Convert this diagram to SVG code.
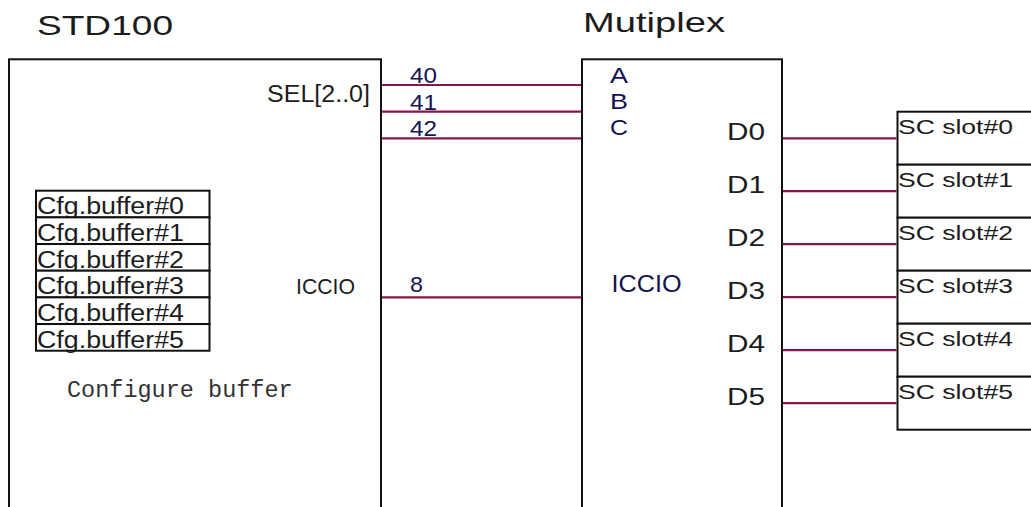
<svg xmlns="http://www.w3.org/2000/svg" width="1031" height="507" viewBox="0 0 1031 507">
<style>
.box{fill:#fff;stroke:#111;stroke-width:2}
.wire{stroke:#8a1450;stroke-width:2.2;fill:none}
.t{font-family:"Liberation Sans",Arial,Helvetica,sans-serif;fill:#1c1c1c}
.n{font-family:"Liberation Sans",Arial,Helvetica,sans-serif;fill:#141450}
.title{font-size:28px}
.m{font-family:"Liberation Mono","Courier New",monospace;font-size:23.5px;fill:#333}
</style>
<rect width="1031" height="507" fill="#fff"/>
<g id="std100">
  <rect class="box" x="9" y="59.3" width="372" height="470"/>
  <text class="t title" x="37" y="35" textLength="136" lengthAdjust="spacingAndGlyphs">STD100</text>
  <text class="t" x="267" y="102" font-size="23" textLength="103" lengthAdjust="spacingAndGlyphs">SEL[2..0]</text>
  <text class="t" x="296" y="294" font-size="22.5" textLength="59" lengthAdjust="spacingAndGlyphs">ICCIO</text>
  <text class="m" x="67" y="396.5">Configure buffer</text>
</g>
<g id="cfg-buffers">
  <g id="cfg0"><rect class="box" x="36" y="190.7" width="173.5" height="26.67"/><text class="t" x="37" y="214.3" font-size="23" textLength="147" lengthAdjust="spacingAndGlyphs">Cfg.buffer#0</text></g>
  <g id="cfg1"><rect class="box" x="36" y="217.37" width="173.5" height="26.67"/><text class="t" x="37" y="240.97" font-size="23" textLength="147" lengthAdjust="spacingAndGlyphs">Cfg.buffer#1</text></g>
  <g id="cfg2"><rect class="box" x="36" y="244.04" width="173.5" height="26.67"/><text class="t" x="37" y="267.64" font-size="23" textLength="147" lengthAdjust="spacingAndGlyphs">Cfg.buffer#2</text></g>
  <g id="cfg3"><rect class="box" x="36" y="270.71" width="173.5" height="26.67"/><text class="t" x="37" y="294.31" font-size="23" textLength="147" lengthAdjust="spacingAndGlyphs">Cfg.buffer#3</text></g>
  <g id="cfg4"><rect class="box" x="36" y="297.38" width="173.5" height="26.67"/><text class="t" x="37" y="320.98" font-size="23" textLength="147" lengthAdjust="spacingAndGlyphs">Cfg.buffer#4</text></g>
  <g id="cfg5"><rect class="box" x="36" y="324.05" width="173.5" height="26.67"/><text class="t" x="37" y="347.65" font-size="23" textLength="147" lengthAdjust="spacingAndGlyphs">Cfg.buffer#5</text></g>
</g>
<g id="mutiplex">
  <rect class="box" x="582" y="59.3" width="200" height="470"/>
  <text class="t title" x="583" y="32" textLength="142" lengthAdjust="spacingAndGlyphs">Mutiplex</text>
  <text class="n" x="610" y="83" font-size="22.5" textLength="18" lengthAdjust="spacingAndGlyphs">A</text>
  <text class="n" x="610" y="109.3" font-size="22.5" textLength="18" lengthAdjust="spacingAndGlyphs">B</text>
  <text class="n" x="610" y="135.3" font-size="22.5" textLength="18" lengthAdjust="spacingAndGlyphs">C</text>
  <text class="n" x="611.5" y="291.7" font-size="23.5" textLength="70" lengthAdjust="spacingAndGlyphs">ICCIO</text>
  <text class="t" x="727" y="140" font-size="24" textLength="38" lengthAdjust="spacingAndGlyphs">D0</text>
  <text class="t" x="727" y="193" font-size="24" textLength="38" lengthAdjust="spacingAndGlyphs">D1</text>
  <text class="t" x="727" y="246" font-size="24" textLength="38" lengthAdjust="spacingAndGlyphs">D2</text>
  <text class="t" x="727" y="299" font-size="24" textLength="38" lengthAdjust="spacingAndGlyphs">D3</text>
  <text class="t" x="727" y="352" font-size="24" textLength="38" lengthAdjust="spacingAndGlyphs">D4</text>
  <text class="t" x="727" y="405" font-size="24" textLength="38" lengthAdjust="spacingAndGlyphs">D5</text>
</g>
<g id="sc-slots">
  <g id="slot0"><rect class="box" x="897.5" y="111.7" width="150" height="53"/><text class="t" x="898" y="134" font-size="21" textLength="115" lengthAdjust="spacingAndGlyphs">SC slot#0</text></g>
  <g id="slot1"><rect class="box" x="897.5" y="164.7" width="150" height="53"/><text class="t" x="898" y="187" font-size="21" textLength="115" lengthAdjust="spacingAndGlyphs">SC slot#1</text></g>
  <g id="slot2"><rect class="box" x="897.5" y="217.7" width="150" height="53"/><text class="t" x="898" y="240" font-size="21" textLength="115" lengthAdjust="spacingAndGlyphs">SC slot#2</text></g>
  <g id="slot3"><rect class="box" x="897.5" y="270.7" width="150" height="53"/><text class="t" x="898" y="293" font-size="21" textLength="115" lengthAdjust="spacingAndGlyphs">SC slot#3</text></g>
  <g id="slot4"><rect class="box" x="897.5" y="323.7" width="150" height="53"/><text class="t" x="898" y="346" font-size="21" textLength="115" lengthAdjust="spacingAndGlyphs">SC slot#4</text></g>
  <g id="slot5"><rect class="box" x="897.5" y="376.7" width="150" height="53"/><text class="t" x="898" y="399" font-size="21" textLength="115" lengthAdjust="spacingAndGlyphs">SC slot#5</text></g>
</g>
<g id="connectors">
  <line class="wire" x1="382" y1="85" x2="581" y2="85"/>
  <line class="wire" x1="382" y1="111.6" x2="581" y2="111.6"/>
  <line class="wire" x1="382" y1="138.3" x2="581" y2="138.3"/>
  <line class="wire" x1="382" y1="297.3" x2="581" y2="297.3"/>
  <line class="wire" x1="783" y1="138.3" x2="896.5" y2="138.3"/>
  <line class="wire" x1="783" y1="191.2" x2="896.5" y2="191.2"/>
  <line class="wire" x1="783" y1="244.2" x2="896.5" y2="244.2"/>
  <line class="wire" x1="783" y1="297.2" x2="896.5" y2="297.2"/>
  <line class="wire" x1="783" y1="350.2" x2="896.5" y2="350.2"/>
  <line class="wire" x1="783" y1="403.2" x2="896.5" y2="403.2"/>
  <text class="n" x="410" y="83" font-size="22" textLength="27" lengthAdjust="spacingAndGlyphs">40</text>
  <text class="n" x="410" y="109.6" font-size="22" textLength="27" lengthAdjust="spacingAndGlyphs">41</text>
  <text class="n" x="410" y="136" font-size="22" textLength="27" lengthAdjust="spacingAndGlyphs">42</text>
  <text class="n" x="410" y="292" font-size="22" textLength="13" lengthAdjust="spacingAndGlyphs">8</text>
</g>
</svg>
